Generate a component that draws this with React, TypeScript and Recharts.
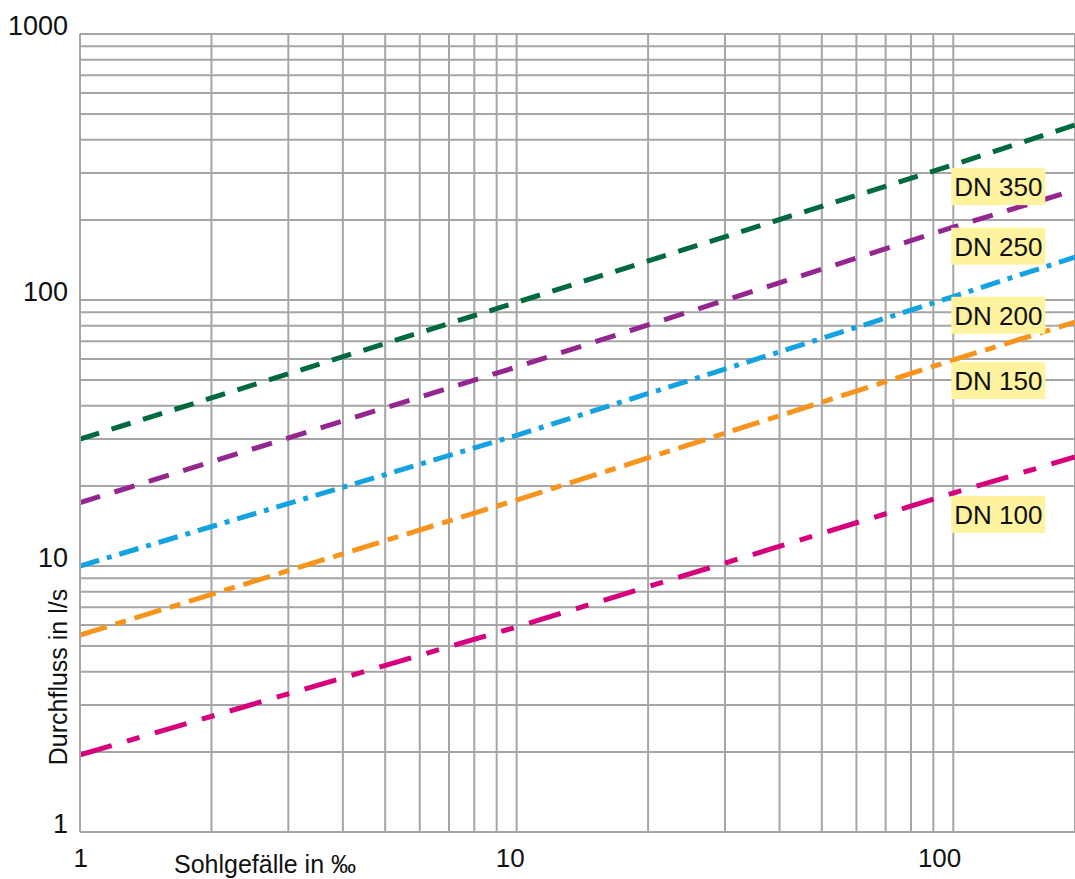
import React from 'react';
import { LineChart, Line, XAxis, YAxis, CartesianGrid, ReferenceDot, Label } from 'recharts';

// Sohlgefälle in ‰ (x) and Durchfluss in l/s (y)
const slopes = [1, 10, 100, 190];
const dn350 = [30, 98, 322, 455];
const dn250 = [17.3, 56, 188, 259];
const dn200 = [10, 31, 103, 145];
const dn150 = [5.5, 17.7, 59.5, 82.6];
const dn100 = [1.95, 5.9, 18.8, 25.7];

const xGrid = [1, 2, 3, 4, 5, 6, 7, 8, 9, 10, 20, 30, 40, 50, 60, 70, 80, 90, 100];
const yGrid = [1, 2, 3, 4, 5, 6, 7, 8, 9, 10, 20, 30, 40, 50, 60, 70, 80, 90, 100, 200, 300, 400, 500, 600, 700, 800, 900, 1000];
const xLabels = [1, 10, 100];
const yLabels = [1, 10, 100, 1000];

const seriesNames = ['DN 350', 'DN 250', 'DN 200', 'DN 150', 'DN 100'];
const labelX = 100;
const labelY = [268, 160, 88, 50, 15.7];

const data = slopes.map((s, i) => ({
  s,
  dn350: dn350[i],
  dn250: dn250[i],
  dn200: dn200[i],
  dn150: dn150[i],
  dn100: dn100[i],
}));

const GRID = '#a6a6a6';
const FONT = '"Liberation Sans", Arial, sans-serif';

const XTick = (props: any) => {
  const { x, y, payload } = props;
  if (!xLabels.includes(payload.value)) return <g />;
  return (
    <text x={x + 8} y={y + 35 - 8} textAnchor="end" fontSize={26} fontFamily={FONT} fill="#111">
      {payload.value}
    </text>
  );
};

const YTick = (props: any) => {
  const { y, payload } = props;
  if (!yLabels.includes(payload.value)) return <g />;
  return (
    <text x={68} y={y + 1} textAnchor="end" fontSize={27} fontFamily={FONT} fill="#111">
      {payload.value}
    </text>
  );
};

const NameBox = (name: string) => (props: any) => {
  const { cx, cy } = props;
  return (
    <g>
      <rect x={cx - 2} y={cy - 18} width={94} height={37} fill="#fff3a0" />
      <text x={cx + 1} y={cy + 10} fontSize={26} fontFamily={FONT} fill="#111">
        {name}
      </text>
    </g>
  );
};

export default function App() {
  return (
    <div style={{ position: 'absolute', left: 0, top: 0, width: 1075, height: 879, background: '#fff' }}>
      <LineChart width={1075} height={879} data={data} margin={{ top: 34, right: 0, bottom: 0, left: 0 }}>
        <CartesianGrid stroke={GRID} strokeWidth={2} horizontal vertical />
        <XAxis
          dataKey="s"
          type="number"
          scale="log"
          domain={[1, 190]}
          allowDataOverflow
          ticks={xGrid}
          interval={0}
          height={47}
          tickLine={false}
          axisLine={{ stroke: GRID, strokeWidth: 2 }}
          tick={<XTick />}
        >
          <Label
            content={(p: any) => (
              <text x={p.viewBox.x + 185} y={p.viewBox.y + 41} textAnchor="middle" fontSize={25} fontFamily={FONT} fill="#111">
                Sohlgefälle in ‰
              </text>
            )}
          />
        </XAxis>
        <YAxis
          type="number"
          scale="log"
          domain={[1, 1000]}
          allowDataOverflow
          ticks={yGrid}
          interval={0}
          width={80}
          tickLine={false}
          axisLine={{ stroke: GRID, strokeWidth: 2 }}
          tick={<YTick />}
        >
          <Label
            content={() => (
              <text x={67} y={677} transform="rotate(-90 67 677)" textAnchor="middle" fontSize={25} fontFamily={FONT} fill="#111">
                Durchfluss in l/s
              </text>
            )}
          />
        </YAxis>
        <Line type="linear" dataKey="dn350" stroke="#006a3e" strokeWidth={5} strokeDasharray="20 13" dot={false} isAnimationActive={false} />
        <Line type="linear" dataKey="dn250" stroke="#93278f" strokeWidth={5} strokeDasharray="21 15" dot={false} isAnimationActive={false} />
        <Line type="linear" dataKey="dn200" stroke="#14a2e0" strokeWidth={5} strokeDasharray="20 8 5 8" dot={false} isAnimationActive={false} />
        <Line type="linear" dataKey="dn150" stroke="#f7941d" strokeWidth={5} strokeDasharray="28 9 11 9" dot={false} isAnimationActive={false} />
        <Line type="linear" dataKey="dn100" stroke="#d6007d" strokeWidth={5} strokeDasharray="33 16 13 16" dot={false} isAnimationActive={false} />
        {seriesNames.map((n, i) => (
          <ReferenceDot key={n} x={labelX} y={labelY[i]} ifOverflow="visible" shape={NameBox(n)} />
        ))}
      </LineChart>
    </div>
  );
}
